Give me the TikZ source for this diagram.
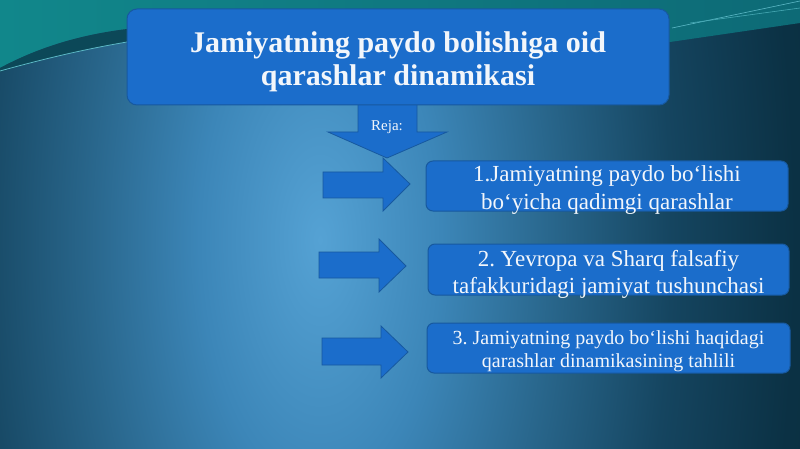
\documentclass[tikz,border=0pt]{standalone}
\usepackage{fontspec}
\setmainfont{Liberation Serif}
\usepackage{tikz}
\usetikzlibrary{calc}
\frenchspacing
\definecolor{boxblue}{HTML}{1B6DCB}
\definecolor{boxedge}{HTML}{17599F}
\definecolor{txtwhite}{HTML}{F2F6FB}
\definecolor{bgA}{HTML}{55A2D4}
\definecolor{bgB}{HTML}{3C86B8}
\definecolor{bgC}{HTML}{28658A}
\definecolor{bgD}{HTML}{154560}
\definecolor{bgE}{HTML}{0B3144}
\definecolor{bgF}{HTML}{0A2A3A}
\definecolor{tealA}{HTML}{11878B}
\definecolor{tealB}{HTML}{0D6A76}
\definecolor{bandC}{HTML}{0C4858}
\definecolor{streak}{HTML}{5CB8C6}
\pgfdeclareradialshading{bgglow}{\pgfpoint{0bp}{0bp}}{color(0bp)=(bgA); color(4.2bp)=(bgB); color(8.2bp)=(bgC); color(12.2bp)=(bgD); color(16.5bp)=(bgE); color(22.5bp)=(bgF); color(50bp)=(bgF)}

\begin{document}
\begin{tikzpicture}[x=1pt,y=-1pt,
	titlebox/.style={fill=boxblue,draw=boxedge,line width=1pt,rounded corners=10pt,minimum width=542,minimum height=96},
	itembox/.style={fill=boxblue,draw=boxedge,line width=1pt,rounded corners=7pt,minimum height=50},
	itemtext/.style={text=txtwhite,align=center,inner sep=0pt},
	blockarrow/.style={fill=boxblue,draw=boxedge,line width=0.8pt}]
	\useasboundingbox (0,0) rectangle (800,449);
	\begin{scope}
	\clip (0,0) rectangle (800,449);
	\fill[bgF] (0,0) rectangle (800,449);
	\shade[shading=bgglow] (320,240) ellipse (720 and 1500);
	\shade[left color=tealA,right color=tealB] (0,0) -- (800,0) -- (800,23) -- (670,42) -- (400,38) -- (127,29) .. controls (70,36) and (30,52) .. (0,68) -- cycle;
	\fill[bandC] (0,68) .. controls (30,52) and (70,36) .. (127,29) -- (127,42) .. controls (80,50) and (40,60) .. (0,72) -- cycle;
	\draw[streak,line width=0.8pt] (0,71) .. controls (40,60) and (80,50) .. (127,42);
	\draw[streak,line width=0.6pt] (672,28) -- (800,1);
	\draw[streak!70!tealA,line width=0.6pt] (690,23) -- (800,8);
	\end{scope}
	\draw[blockarrow] (358,100) -- (417,100) -- (417,132) -- (447,132) -- (387,158) -- (328,132) -- (358,132) -- cycle;
	\node[text=txtwhite,font=\fontsize{15}{18}\selectfont] (reja) at (387,127) {Reja:};
	\node[titlebox] (title) at (398,57) {};
	\node[itemtext,font=\fontsize{30}{33}\selectfont\bfseries] (titletext) at ($(title.center)+(0,4.5)$) {Jamiyatning paydo bolishiga oid\\qarashlar dinamikasi};
	\draw[blockarrow] (323,172) -- (383,172) -- (383,158) -- (410,184) -- (383,211) -- (383,198) -- (323,198) -- cycle;
	\draw[blockarrow] (319,252) -- (379,252) -- (379,239) -- (406,266) -- (379,292) -- (379,278) -- (319,278) -- cycle;
	\draw[blockarrow] (322,338) -- (381,338) -- (381,326) -- (408,352) -- (381,378) -- (381,365) -- (322,365) -- cycle;
	\node[itembox,minimum width=362] (box1) at (607,186) {};
	\node[itembox,minimum width=361,minimum height=51] (box2) at (608.5,269.5) {};
	\node[itembox,minimum width=363] (box3) at (608.5,348) {};
	\node[itemtext,font=\fontsize{23}{28}\selectfont] (text1) at ($(box1.center)+(0,4.5)$) {1.Jamiyatning paydo bo‘lishi\\bo‘yicha qadimgi qarashlar};
	\node[itemtext,font=\fontsize{23}{27}\selectfont] (text2) at ($(box2.center)+(0,4.5)$) {2. Yevropa va Sharq falsafiy\\tafakkuridagi jamiyat tushunchasi};
	\node[itemtext,font=\fontsize{20}{23}\selectfont] (text3) at ($(box3.center)+(0,3.7)$) {3. Jamiyatning paydo bo‘lishi haqidagi\\qarashlar dinamikasining tahlili};
\end{tikzpicture}
\end{document}
